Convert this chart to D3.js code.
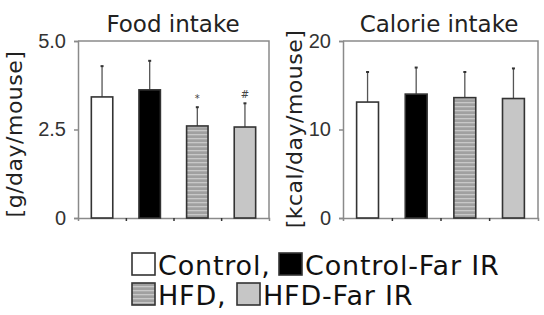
<!DOCTYPE html>
<html>
<head>
<meta charset="utf-8">
<script src="https://cdn.jsdelivr.net/npm/d3@7"></script>
<style>
  body { margin: 0; background: #fff; }
  svg { font-family: "DejaVu Sans", Verdana, sans-serif; }
</style>
</head>
<body>
<div id="chart"></div>
<script>
// groups and values
var groups = ["Control", "Control-Far IR", "HFD", "HFD-Far IR"];
var foodMean = [3.42, 3.62, 2.6, 2.57];
var foodErr = [0.87, 0.82, 0.53, 0.67];
var foodMarks = ["", "", "*", "#"];
var calMean = [13.1, 14.0, 13.6, 13.5];
var calErr = [3.4, 3.0, 2.9, 3.4];
var calMarks = ["", "", "", ""];
var foodTicks = [0, 2.5, 5.0];
var calTicks = [0, 10, 20];

var barFill = ["#ffffff", "#000000", "url(#stripes)", "#c6c6c6"];
var axisColor = "#8a8a8a";

var svg = d3.select("#chart").append("svg")
  .attr("width", 544)
  .attr("height", 315);

var defs = svg.append("defs");
var pat = defs.append("pattern")
  .attr("id", "stripes")
  .attr("patternUnits", "userSpaceOnUse")
  .attr("width", 6)
  .attr("height", 4);
pat.append("rect").attr("width", 6).attr("height", 4).attr("fill", "#a0a0a0");
pat.append("rect").attr("y", 2).attr("width", 6).attr("height", 1.3).attr("fill", "#c8c8c8");

function drawPanel(opt) {
  var g = svg.append("g");

  var x = d3.scaleBand()
    .domain(groups)
    .range([opt.left, opt.right])
    .paddingInner(0.55)
    .paddingOuter(0.28);

  var y = d3.scaleLinear()
    .domain([0, opt.max])
    .range([opt.bottom, opt.top]);

  // frame top + right
  g.append("path")
    .attr("d", "M" + opt.left + "," + opt.top + "H" + opt.right + "V" + opt.bottom)
    .attr("fill", "none")
    .attr("stroke", axisColor)
    .attr("stroke-width", 1.5);

  var yAxis = g.append("g")
    .attr("transform", "translate(" + opt.left + ",0)")
    .call(d3.axisLeft(y).tickValues(opt.ticks).tickSize(4).tickPadding(8)
      .tickFormat(opt.format));
  yAxis.select(".domain").attr("stroke", axisColor).attr("stroke-width", 1.5);
  yAxis.selectAll(".tick line").attr("stroke", axisColor).attr("stroke-width", 1.5);
  yAxis.selectAll(".tick text")
    .attr("fill", "#333")
    .style("font-size", "20px");

  // x axis: ticks between categories
  var step = x.step();
  var bounds = groups.slice(1).map(function (d) { return x(d) - step * x.paddingInner() / 2; });
  var xAxis = g.append("g")
    .attr("transform", "translate(0," + opt.bottom + ")")
    .call(d3.axisBottom(d3.scaleLinear().domain([opt.left, opt.right]).range([opt.left, opt.right]))
      .tickValues(bounds).tickSize(3).tickFormat(""));
  xAxis.select(".domain").attr("stroke", axisColor).attr("stroke-width", 1.5);
  xAxis.selectAll(".tick line").attr("stroke", "#333").attr("stroke-width", 1.5);

  // error bars (upper only)
  g.selectAll(".err")
    .data(groups)
    .enter()
    .append("line")
    .attr("x1", function (d) { return x(d) + x.bandwidth() / 2; })
    .attr("x2", function (d) { return x(d) + x.bandwidth() / 2; })
    .attr("y1", function (d, i) { return y(opt.mean[i]); })
    .attr("y2", function (d, i) { return y(opt.mean[i] + opt.err[i]); })
    .attr("stroke", "#555")
    .attr("stroke-width", 1.3);

  g.selectAll(".cap")
    .data(groups)
    .enter()
    .append("line")
    .attr("x1", function (d) { return x(d) + x.bandwidth() / 2 - 1.5; })
    .attr("x2", function (d) { return x(d) + x.bandwidth() / 2 + 1.5; })
    .attr("y1", function (d, i) { return y(opt.mean[i] + opt.err[i]); })
    .attr("y2", function (d, i) { return y(opt.mean[i] + opt.err[i]); })
    .attr("stroke", "#333")
    .attr("stroke-width", 2);

  g.selectAll(".bar")
    .data(groups)
    .enter()
    .append("rect")
    .attr("x", function (d) { return x(d); })
    .attr("y", function (d, i) { return y(opt.mean[i]); })
    .attr("width", x.bandwidth())
    .attr("height", function (d, i) { return opt.bottom - y(opt.mean[i]); })
    .attr("fill", function (d, i) { return barFill[i]; })
    .attr("stroke", "#333")
    .attr("stroke-width", 1.6);

  g.selectAll(".mark")
    .data(groups)
    .enter()
    .append("text")
    .attr("x", function (d) { return x(d) + x.bandwidth() / 2; })
    .attr("y", function (d, i) { return y(opt.mean[i] + opt.err[i]) - 5; })
    .attr("text-anchor", "middle")
    .attr("fill", "#444")
    .style("font-size", "10px")
    .text(function (d, i) { return opt.marks[i]; });

  g.append("text")
    .attr("x", opt.titleX)
    .attr("y", 32)
    .attr("text-anchor", "middle")
    .attr("fill", "#222")
    .style("font-size", "23px")
    .text(opt.title);

  g.append("text")
    .attr("transform", "translate(" + opt.labelX + "," + opt.labelY + ") rotate(-90)")
    .attr("text-anchor", "middle")
    .attr("dy", "0.35em")
    .attr("fill", "#222")
    .style("font-size", "22px")
    .style("letter-spacing", "0.5px")
    .text(opt.label);
}

drawPanel({
  left: 78, right: 269, top: 41, bottom: 218, max: 5,
  ticks: foodTicks, format: function (d) { return d === 0 ? "0" : d3.format(".1f")(d); },
  mean: foodMean, err: foodErr, marks: foodMarks,
  title: "Food intake", titleX: 173,
  label: "[g/day/mouse]", labelX: 14, labelY: 134
});

drawPanel({
  left: 343, right: 538, top: 41, bottom: 218, max: 20,
  ticks: calTicks, format: d3.format("d"),
  mean: calMean, err: calErr, marks: calMarks,
  title: "Calorie intake", titleX: 439,
  label: "[kcal/day/mouse]", labelX: 294, labelY: 129
});

// legend
var legendRows = [
  [{ i: 0, x: 132, text: "Control," }, { i: 1, x: 279, text: "Control-Far IR" }],
  [{ i: 2, x: 132, text: "HFD," }, { i: 3, x: 237, text: "HFD-Far IR" }]
];
var legendY = [253, 283];

legendRows.forEach(function (row, r) {
  row.forEach(function (item) {
    svg.append("rect")
      .attr("x", item.x)
      .attr("y", legendY[r])
      .attr("width", 23)
      .attr("height", 22)
      .attr("fill", barFill[item.i])
      .attr("stroke", "#333")
      .attr("stroke-width", 1.6);
    svg.append("text")
      .attr("x", item.x + 26)
      .attr("y", legendY[r] + 22)
      .attr("fill", "#111")
      .style("font-size", "27px")
      .style("letter-spacing", "0.8px")
      .text(item.text);
  });
});
</script>
</body>
</html>
